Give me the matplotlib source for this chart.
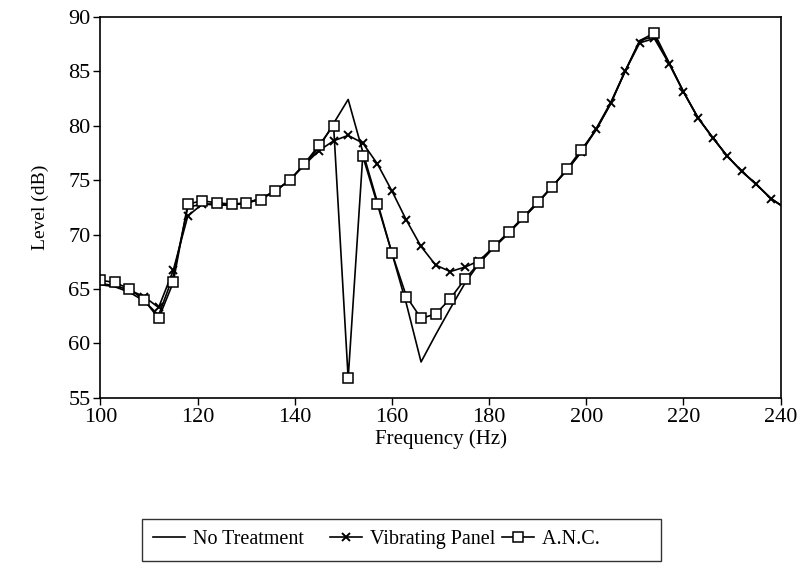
import numpy as np
import matplotlib.pyplot as plt

# frequency points (Hz), ~3 Hz spacing, last one runs past the axis edge
freq = [100, 103, 106, 109, 112, 115, 118, 121, 124, 127, 130, 133, 136, 139,
        142, 145, 148, 151, 154, 157, 160, 163, 166, 169, 172, 175, 178, 181,
        184, 187, 190, 193, 196, 199, 202, 205, 208, 211, 214, 217, 220, 223,
        226, 229, 232, 235, 238, 241]

# levels (dB)
no_treatment = [65.4, 65.2, 64.7, 63.9, 62.6, 66.2, 72.5, 72.8, 72.7, 72.7, 72.9, 73.3, 74.0, 75.0,
                76.4, 78.0, 80.2, 82.4, 77.6, 73.0, 68.3, 63.6, 58.3, 60.8, 63.2, 65.5, 67.4, 68.8,
                70.1, 71.5, 72.9, 74.4, 75.9, 77.6, 79.6, 82.0, 85.0, 87.8, 88.2, 85.8, 83.1, 80.7,
                78.9, 77.2, 75.8, 74.6, 73.3, 72.4]
vibrating_panel = [65.5, 65.3, 64.9, 64.3, 63.3, 66.7, 71.7, 72.8, 72.8, 72.7, 72.9, 73.3, 74.0, 75.0,
                   76.4, 77.7, 78.6, 79.1, 78.4, 76.5, 74.0, 71.3, 68.9, 67.2, 66.6, 67.0, 67.6, 68.9,
                   70.2, 71.5, 72.9, 74.4, 75.9, 77.6, 79.7, 82.1, 85.0, 87.6, 88.0, 85.7, 83.1, 80.7,
                   78.9, 77.2, 75.8, 74.6, 73.3, 72.4]
anc = [65.8, 65.6, 65.0, 64.0, 62.3, 65.6, 72.8, 73.1, 72.9, 72.8, 72.9, 73.2, 74.0, 75.0,
       76.5, 78.2, 80.0, 56.8, 77.2, 72.8, 68.3, 64.3, 62.3, 62.7, 64.1, 65.9, 67.4, 68.9,
       70.2, 71.6, 73.0, 74.4, 76.0, 77.8, 79.6, 82.0, 85.0, 87.8, 88.5, 85.8, 83.1, 80.7,
       78.9, 77.2, 75.8, 74.6, 73.3, 72.4]

xticks = [100, 120, 140, 160, 180, 200, 220, 240]
yticks = [55, 60, 65, 70, 75, 80, 85, 90]

plt.rcParams['font.family'] = ['Liberation Serif', 'DejaVu Serif']

fig = plt.figure(figsize=(8.09, 5.75), dpi=100)
ax = fig.add_axes([0.124, 0.308, 0.841, 0.663])

ax.plot(freq, no_treatment, 'k-', linewidth=1.2, label='No Treatment')
ax.plot(freq, vibrating_panel, 'k-', linewidth=1.2, marker='x', markersize=6,
        markeredgewidth=1.4, markevery=list(range(3, 47)), label='Vibrating Panel')
ax.plot(freq, anc, 'k-', linewidth=1.2, marker='s', markersize=7.5, markerfacecolor='white',
        markeredgewidth=1.1, markevery=list(range(0, 34)) + [38], label='A.N.C.')

ax.set_xlim(100, 240)
ax.set_ylim(55, 90)
ax.set_xticks(xticks)
ax.set_yticks(yticks)
ax.tick_params(direction='out', length=5, width=1, labelsize=16, pad=2,
               top=False, right=False)
for s in ax.spines.values():
    s.set_linewidth(1.2)

ax.set_xlabel('Frequency (Hz)', fontsize=15, labelpad=2)
ax.set_ylabel('Level (dB)', fontsize=14, labelpad=14)

fig.legend(['No Treatment    ', 'Vibrating Panel', 'A.N.C.          '],
           loc='center', bbox_to_anchor=(0.496, 0.061), ncol=3, fontsize=14.5,
           frameon=True, fancybox=False, edgecolor='black', handlelength=1.6,
           columnspacing=0.3, handletextpad=0.4, borderpad=0.55)

fig.savefig('out.png', dpi=100)
